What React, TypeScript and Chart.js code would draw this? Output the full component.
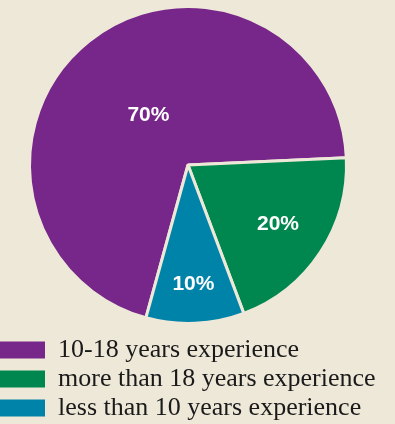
import React, { useEffect, useRef } from "react";
import { Chart, registerables } from "chart.js";

Chart.register(...registerables);

const categories = [
  "10-18 years experience",
  "more than 18 years experience",
  "less than 10 years experience",
];
const values = [70, 20, 10];
const valueLabels = ["70%", "20%", "10%"];
const colors = ["#77278A", "#00874F", "#0083A9"];
const labelRadiusFraction = [0.4, 0.68, 0.75];

const BG = "#EEE8D8";

const sliceLabelPlugin = {
  id: "sliceLabels",
  afterDatasetsDraw(chart: any) {
    const ctx = chart.ctx;
    const meta = chart.getDatasetMeta(0);
    ctx.save();
    ctx.fillStyle = "#FFFFFF";
    ctx.font = 'bold 21px "Liberation Sans", Arial, sans-serif';
    ctx.textAlign = "center";
    ctx.textBaseline = "middle";
    meta.data.forEach((arc: any, i: number) => {
      const { x, y, startAngle, endAngle, outerRadius } = arc.getProps(
        ["x", "y", "startAngle", "endAngle", "outerRadius"],
        true
      );
      const mid = (startAngle + endAngle) / 2;
      const r = outerRadius * labelRadiusFraction[i];
      ctx.fillText(valueLabels[i], x + Math.cos(mid) * r, y + Math.sin(mid) * r);
    });
    ctx.restore();
  },
};

export default function App() {
  const ref = useRef<HTMLCanvasElement>(null);

  useEffect(() => {
    document.body.style.margin = "0";
    document.body.style.background = BG;
    const canvas = ref.current!;
    const chart = new Chart(canvas, {
      type: "pie",
      data: {
        labels: categories,
        datasets: [
          {
            data: values,
            backgroundColor: colors,
            borderColor: BG,
            borderWidth: 3,
            radius: 158.5,
          },
        ],
      },
      options: {
        responsive: false,
        animation: false,
        rotation: 195.4,
        layout: { padding: 0 },
        plugins: {
          tooltip: { enabled: false },
          legend: {
            position: "bottom",
            align: "start",
            labels: {
              boxWidth: 45,
              boxHeight: 17,
              padding: 3,
              color: "#1A1A1A",
              font: { family: '"Liberation Serif", "Times New Roman", serif', size: 26 },
              generateLabels: () =>
                categories.map((c, i) => ({
                  text: c,
                  fillStyle: colors[i],
                  strokeStyle: colors[i],
                  lineWidth: 0,
                  hidden: false,
                  index: i,
                  fontColor: "#1A1A1A",
                })),
            },
          },
        },
      },
      plugins: [sliceLabelPlugin],
    });
    return () => chart.destroy();
  }, []);

  return (
    <div
      style={{
        position: "fixed",
        left: 0,
        top: 0,
        width: 395,
        height: 424,
        overflow: "hidden",
        background: BG,
      }}
    >
      <canvas
        ref={ref}
        width={382}
        height={435}
        style={{ position: "absolute", left: -3, top: -4, width: 382, height: 435 }}
      />
    </div>
  );
}
